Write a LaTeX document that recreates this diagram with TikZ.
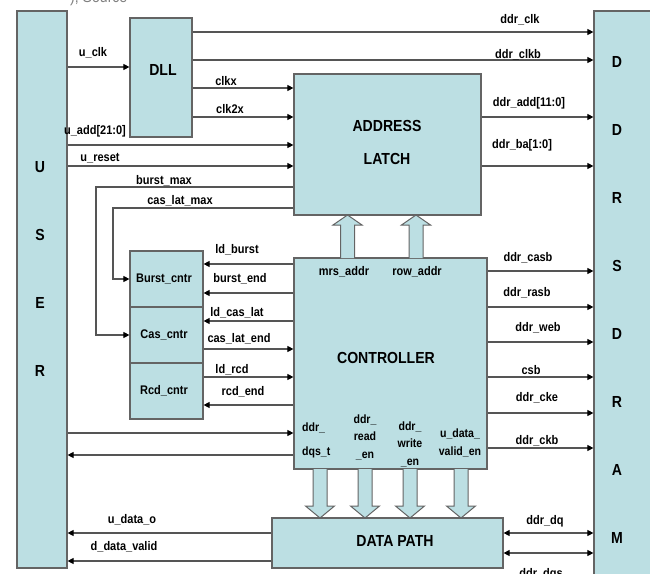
\documentclass[tikz,border=0pt]{standalone}
\usepackage{fontspec}
\setmainfont[FakeStretch=0.88]{Liberation Sans}
\usepackage{xcolor}
\usetikzlibrary{arrows.meta}
\definecolor{boxblue}{RGB}{188,223,227}
\definecolor{wiregray}{RGB}{85,85,85}
\definecolor{edgegray}{RGB}{100,100,100}

\tikzset{
  >={Triangle[length=6pt,width=6pt,color=black]},
  blk/.style={draw=edgegray, fill=boxblue, line width=1.2pt, inner sep=0pt},
  big/.style={font=\fontsize{16}{16}\selectfont\bfseries, inner sep=0pt},
  sig/.style={font=\fontsize{12.5}{12.5}\selectfont\bfseries, inner sep=0pt},
  tiny/.style={font=\fontsize{12}{17.5}\selectfont\bfseries, inner sep=0pt, align=center},
  wire/.style={draw=wiregray, line width=1.1pt, ->},
  bus/.style={draw=wiregray, line width=1.1pt, <->},
  fat/.style={draw=edgegray, fill=boxblue, line width=1pt},
}

\begin{document}
\begin{tikzpicture}[x=1pt,y=-1pt]
\def\sw{7}
\def\hw{14.5}
\useasboundingbox (0,0) rectangle (650,573);
\clip (0,0) rectangle (650,573);

%caption cut off at the top
\node[anchor=base west, text=gray, inner sep=0pt, font=\fontsize{16}{16}\selectfont] (caption) at (70,2) {), Source};

%blocks
\node[blk, minimum width=50pt, minimum height=557pt] (user) at (42,289.5) {};
\node[blk, minimum width=58pt, minimum height=580pt] (ddr) at (623,301) {};
\node[blk, minimum width=62pt, minimum height=119pt] (dll) at (161,77.5) {};
\node[blk, minimum width=187pt, minimum height=141pt] (latch) at (387.5,144.5) {};
\node[blk, minimum width=193pt, minimum height=211pt] (ctrl) at (390.5,363.5) {};
\node[blk, minimum width=73pt, minimum height=56pt] (burst) at (166.5,279) {};
\node[blk, minimum width=73pt, minimum height=56pt] (cas) at (166.5,335) {};
\node[blk, minimum width=73pt, minimum height=56pt] (rcd) at (166.5,391) {};
\node[blk, minimum width=231pt, minimum height=50pt] (dpath) at (387.5,543) {};

%block texts
\foreach \l [count=\i] in {U,S,E,R}
  \node[big] (user\i) at (40,99+68*\i) {\l};
\foreach \l [count=\i] in {D,D,R,S,D,R,A,M}
  \node[big] (ddr\i) at (617,-6+68*\i) {\l};
\node[big] (dlltxt) at (163,70) {DLL};
\node[big, align=center, font=\fontsize{16}{33}\selectfont\bfseries] (latchtxt) at (387,142.5) {ADDRESS\\LATCH};
\node[big] (ctrltxt) at (386,358) {CONTROLLER};
\node[big] (dpathtxt) at (395,541) {DATA PATH};
\node[sig] (bursttxt) at (164,279) {Burst\_cntr};
\node[sig] (castxt) at (164,335) {Cas\_cntr};
\node[sig] (rcdtxt) at (164,391) {Rcd\_cntr};

%hollow arrows controller <-> latch and data path
\foreach \x in {347.5,416}
  \filldraw[fat] (\x-\sw,258) -- (\x-\sw,225) -- (\x-\hw,225) -- (\x,215) -- (\x+\hw,225) -- (\x+\sw,225) -- (\x+\sw,258);
\foreach \x in {320,365,410,461}
  \filldraw[fat] (\x-\sw,469) -- (\x-\sw,506) -- (\x-\hw,506) -- (\x,518) -- (\x+\hw,506) -- (\x+\sw,506) -- (\x+\sw,469);
\node[sig] (mrs) at (344,272) {mrs\_addr};
\node[sig] (row) at (417,272) {row\_addr};
\node[tiny, anchor=west, font=\fontsize{12}{24}\selectfont\bfseries, align=left] (dqst) at (302,440) {ddr\_\\dqs\_t};
\node[tiny] (rden) at (365,437) {ddr\_\\read\\\_en};
\node[tiny] (wren) at (410,444) {ddr\_\\write\\\_en};
\node[tiny] (uven) at (460,443) {u\_data\_\\valid\_en};

%user side
\draw[wire] (user.east |- 0,67) -- (dll.west |- 0,67);
\node[sig] (uclk) at (93,53) {u\_clk};
\draw[wire] (user.east |- 0,145) -- (latch.west |- 0,145);
\node[sig] (uadd) at (95,131) {u\_add[21:0]};
\draw[wire] (user.east |- 0,166) -- (latch.west |- 0,166);
\node[sig] (ureset) at (100,158) {u\_reset};
\draw[wire] (user.east |- 0,433) -- (ctrl.west |- 0,433);
\draw[wire] (ctrl.west |- 0,455) -- (user.east |- 0,455);
\draw[wire] (dpath.west |- 0,533) -- (user.east |- 0,533);
\node[sig] (udata) at (132,520) {u\_data\_o};
\draw[wire] (dpath.west |- 0,561) -- (user.east |- 0,561);
\node[sig] (dvalid) at (124,547) {d\_data\_valid};

%dll outputs
\draw[wire] (dll.east |- 0,32) -- (ddr.west |- 0,32);
\node[sig] (ddrclk) at (520,20) {ddr\_clk};
\draw[wire] (dll.east |- 0,60) -- (ddr.west |- 0,60);
\node[sig] (ddrclkb) at (518,55) {ddr\_clkb};
\draw[wire] (dll.east |- 0,88) -- (latch.west |- 0,88);
\node[sig] (clkx) at (226,81) {clkx};
\draw[wire] (dll.east |- 0,117) -- (latch.west |- 0,117);
\node[sig] (clktwox) at (230,109) {clk2x};

%latch outputs
\draw[wire] (latch.east |- 0,117) -- (ddr.west |- 0,117);
\node[sig] (ddradd) at (529,103) {ddr\_add[11:0]};
\draw[wire] (latch.east |- 0,166) -- (ddr.west |- 0,166);
\node[sig] (ddrba) at (522,145) {ddr\_ba[1:0]};
\draw[wire] (latch.west |- 0,187) -- (96,187) -- (96,335) -- (cas.west);
\node[sig] (bmax) at (164,181) {burst\_max};
\draw[wire] (latch.west |- 0,208) -- (113,208) -- (113,279) -- (burst.west);
\node[sig] (cmax) at (180,201) {cas\_lat\_max};

%counters
\draw[wire] (ctrl.west |- 0,264) -- (burst.east |- 0,264);
\node[sig] (ldburst) at (237,250) {ld\_burst};
\draw[wire] (ctrl.west |- 0,293) -- (burst.east |- 0,293);
\node[sig] (burstend) at (240,279) {burst\_end};
\draw[wire] (ctrl.west |- 0,321) -- (cas.east |- 0,321);
\node[sig] (ldcas) at (237,313) {ld\_cas\_lat};
\draw[wire] (cas.east |- 0,349) -- (ctrl.west |- 0,349);
\node[sig] (casend) at (239,339) {cas\_lat\_end};
\draw[wire] (rcd.east |- 0,377) -- (ctrl.west |- 0,377);
\node[sig] (ldrcd) at (232,370) {ld\_rcd};
\draw[wire] (ctrl.west |- 0,405) -- (rcd.east |- 0,405);
\node[sig] (rcdend) at (243,392) {rcd\_end};

%controller outputs
\foreach \y/\t/\lx/\ly [count=\i] in {271/ddr\_casb/528/258, 307/ddr\_rasb/527/293, 342/ddr\_web/538/328,
    377/csb/531/370, 413/ddr\_cke/537/398, 448/ddr\_ckb/537/441} {
  \draw[wire] (ctrl.east |- 0,\y) -- (ddr.west |- 0,\y);
  \node[sig] (cout\i) at (\lx,\ly) {\t};
}

%data path to ddr
\draw[bus] (dpath.east |- 0,533) -- (ddr.west |- 0,533);
\node[sig] (ddrdq) at (545,521) {ddr\_dq};
\draw[bus] (dpath.east |- 0,553) -- (ddr.west |- 0,553);
\node[sig] (ddrdqs) at (541,574) {ddr\_dqs};
\end{tikzpicture}
\end{document}
